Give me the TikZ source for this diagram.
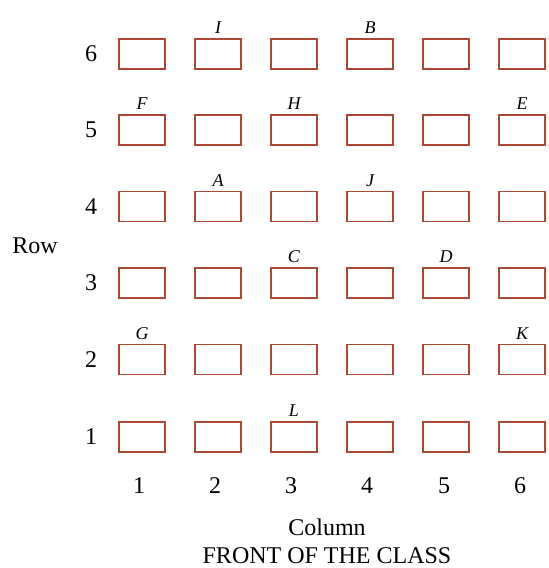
\documentclass[tikz,border=0pt]{standalone}
\usepackage{fontspec}
\setmainfont{Liberation Serif}
\definecolor{seatred}{RGB}{172,72,52}

\tikzstyle{seat} = [draw=seatred, line width=1.8pt, minimum width=46pt, minimum height=30pt, inner sep=0pt]
\tikzstyle{num} = [font=\fontsize{24}{28}\selectfont, inner sep=0pt]
\tikzstyle{who} = [font=\fontsize{18}{20}\selectfont\itshape, inner sep=0pt, label distance=4pt]

\begin{document}
\begin{tikzpicture}[x=1pt, y=1pt]
\useasboundingbox (0,0) rectangle (549,568);
%begin row6
\node[seat] (seat16) at (142,514) {};
\node[seat, label={[who]above:I}] (seat26) at (218,514) {};
\node[seat] (seat36) at (294,514) {};
\node[seat, label={[who]above:B}] (seat46) at (370,514) {};
\node[seat] (seat56) at (446,514) {};
\node[seat] (seat66) at (522,514) {};
%end row6
%begin row5
\node[seat, label={[who]above:F}] (seat15) at (142,438) {};
\node[seat] (seat25) at (218,438) {};
\node[seat, label={[who]above:H}] (seat35) at (294,438) {};
\node[seat] (seat45) at (370,438) {};
\node[seat] (seat55) at (446,438) {};
\node[seat, label={[who]above:E}] (seat65) at (522,438) {};
%end row5
%begin row4
\node[seat] (seat14) at (142,361.5) {};
\node[seat, label={[who]above:A}] (seat24) at (218,361.5) {};
\node[seat] (seat34) at (294,361.5) {};
\node[seat, label={[who]above:J}] (seat44) at (370,361.5) {};
\node[seat] (seat54) at (446,361.5) {};
\node[seat] (seat64) at (522,361.5) {};
%end row4
%begin row3
\node[seat] (seat13) at (142,285) {};
\node[seat] (seat23) at (218,285) {};
\node[seat, label={[who]above:C}] (seat33) at (294,285) {};
\node[seat] (seat43) at (370,285) {};
\node[seat, label={[who]above:D}] (seat53) at (446,285) {};
\node[seat] (seat63) at (522,285) {};
%end row3
%begin row2
\node[seat, label={[who]above:G}] (seat12) at (142,208.5) {};
\node[seat] (seat22) at (218,208.5) {};
\node[seat] (seat32) at (294,208.5) {};
\node[seat] (seat42) at (370,208.5) {};
\node[seat] (seat52) at (446,208.5) {};
\node[seat, label={[who]above:K}] (seat62) at (522,208.5) {};
%end row2
%begin row1
\node[seat] (seat11) at (142,131) {};
\node[seat] (seat21) at (218,131) {};
\node[seat, label={[who]above:L}] (seat31) at (294,131) {};
\node[seat] (seat41) at (370,131) {};
\node[seat] (seat51) at (446,131) {};
\node[seat] (seat61) at (522,131) {};
%end row1
%begin row numbers
\node[num] (row6) at (91,514) {6};
\node[num] (row5) at (91,438) {5};
\node[num] (row4) at (91,361.5) {4};
\node[num] (row3) at (91,285) {3};
\node[num] (row2) at (91,208.5) {2};
\node[num] (row1) at (91,131) {1};
\node[num] (rowtitle) at (35,322) {Row};
%end row numbers
%begin column numbers
\node[num] (col1) at (139,82) {1};
\node[num] (col2) at (215,82) {2};
\node[num] (col3) at (291,82) {3};
\node[num] (col4) at (367,82) {4};
\node[num] (col5) at (444,82) {5};
\node[num] (col6) at (520,82) {6};
\node[num] (coltitle) at (327,41) {Column};
\node[num] (front) at (327,12) {FRONT OF THE CLASS};
%end column numbers
\end{tikzpicture}
\end{document}
